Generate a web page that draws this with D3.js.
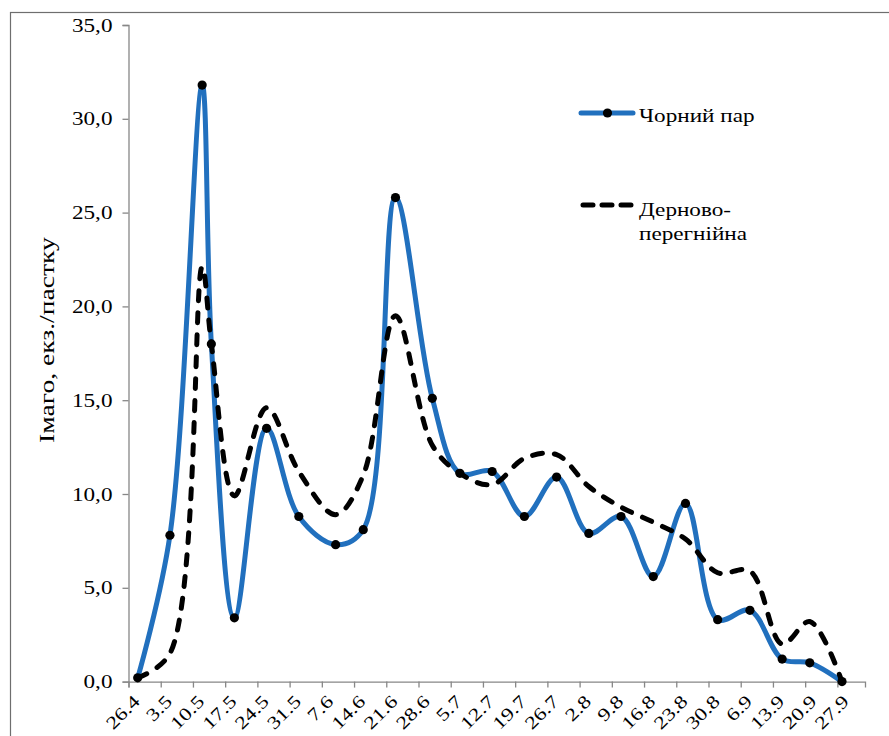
<!DOCTYPE html>
<html>
<head>
<meta charset="utf-8">
<script src="https://cdn.jsdelivr.net/npm/d3@7"></script>
<style>
  html, body { margin: 0; padding: 0; background: #fff; }
  svg { display: block; }
  text { font-family: "Liberation Serif", "Times New Roman", serif; fill: #000; }
</style>
</head>
<body>
<svg id="chart" width="889" height="736"></svg>
<script>
// Weekly sampling dates shown on the x axis (every 7 days from 26.4)
const tickLabels = ["26.4","3.5","10.5","17.5","24.5","31.5","7.6","14.6","21.6","28.6",
  "5.7","12.7","19.7","26.7","2.8","9.8","16.8","23.8","30.8","6.9","13.9","20.9","27.9"];
const tickDays = tickLabels.map((_, i) => i * 7);

// Чорний пар: day offset from 26.4 and catch per trap
const fallowDays   = [2, 9, 16, 18, 23, 30, 37, 45, 51, 58, 66, 72, 79, 86, 93, 100, 107, 114, 121, 128, 135, 142, 148, 155];
const fallowValues = [0.2, 7.8, 31.8, 18.0, 3.4, 13.5, 8.8, 7.3, 8.1, 25.8, 15.1, 11.1, 11.2, 8.8, 10.9, 7.9, 8.8, 5.6, 9.5, 3.3, 3.8, 1.2, 1.0, 0.0];

// Дерново-перегнійна
const sodDays   = [2, 9, 16, 18, 23, 30, 37, 45, 51, 58, 66, 72, 79, 86, 93, 100, 107, 114, 121, 128, 135, 142, 148, 155];
const sodValues = [0.2, 1.5, 22.1, 18.0, 9.9, 14.6, 11.2, 8.9, 11.0, 19.5, 12.6, 11.1, 10.5, 11.9, 12.1, 10.4, 9.3, 8.5, 7.6, 5.8, 5.9, 2.0, 3.2, 0.0];

const yTicks = [0, 5, 10, 15, 20, 25, 30, 35];

const svg = d3.select("#chart");
const axisColor = "#878787";
const blue = "#2170BE";
const stretch = 1.22; // wide lettering of the labels

// outer frame
svg.append("rect")
  .attr("x", 10.5).attr("y", 12.5)
  .attr("width", 1000).attr("height", 1000)
  .attr("fill", "none").attr("stroke", "#6e6e6e").attr("stroke-width", 1.2);

const x = d3.scaleLinear().domain([0, 160]).range([128.5, 865]);
const y = d3.scaleLinear().domain([0, 35]).range([681.6, 25]);

// y axis
const yAxis = svg.append("g")
  .attr("transform", `translate(${x(0)},0)`)
  .call(d3.axisLeft(y).tickValues(yTicks).tickSize(6).tickPadding(10)
    .tickFormat(d => d.toFixed(1).replace(".", ",")));
yAxis.select(".domain").attr("stroke", axisColor).attr("stroke-width", 1.3);
yAxis.selectAll(".tick line").attr("stroke", axisColor).attr("stroke-width", 1.3);
yAxis.selectAll("text")
  .style("font-family", "Liberation Serif, serif").style("font-size", "19px").attr("fill", "#000")
  .attr("x", -16 / stretch)
  .attr("transform", `scale(${stretch},1)`);

// x axis
const xAxis = svg.append("g")
  .attr("transform", `translate(0,${y(0)})`)
  .call(d3.axisBottom(x).tickValues(tickDays).tickSize(6)
    .tickFormat((d, i) => tickLabels[i]));
xAxis.select(".domain").attr("stroke", axisColor).attr("stroke-width", 1.3);
xAxis.selectAll(".tick line").attr("stroke", axisColor).attr("stroke-width", 1.3);
xAxis.selectAll("text")
  .style("font-family", "Liberation Serif, serif").style("font-size", "18px").attr("fill", "#000")
  .attr("text-anchor", "end")
  .attr("y", 0).attr("dy", 0)
  .attr("transform", "translate(12,21) rotate(-45) scale(1.25,1)");

// y axis title
svg.append("text")
  .attr("transform", "translate(54,340) rotate(-90) scale(1.38,1)")
  .attr("text-anchor", "middle")
  .style("font-size", "20px")
  .text("Імаго, екз./пастку");

const curve = d3.curveCatmullRom.alpha(0.5);
const line = d3.line().x(d => x(d[0])).y(d => y(d[1])).curve(curve);

// Чорний пар line + markers
const fallowData = fallowDays.map((d, i) => [d, fallowValues[i]]);
svg.append("path")
  .datum(fallowData)
  .attr("d", line)
  .attr("fill", "none").attr("stroke", blue).attr("stroke-width", 5)
  .attr("stroke-linejoin", "round").attr("stroke-linecap", "round");
svg.append("g").selectAll("circle")
  .data(fallowData).join("circle")
  .attr("cx", d => x(d[0])).attr("cy", d => y(d[1])).attr("r", 4.6)
  .attr("fill", "#000");

// Дерново-перегнійна dashed line
const sodData = sodDays.map((d, i) => [d, sodValues[i]]);
svg.append("path")
  .datum(sodData)
  .attr("d", line)
  .attr("fill", "none").attr("stroke", "#000").attr("stroke-width", 5)
  .attr("stroke-dasharray", "10,12").attr("stroke-linecap", "round")
  .attr("stroke-linejoin", "round");

// legend
const lg = svg.append("g");
lg.append("line").attr("x1", 581).attr("x2", 633).attr("y1", 113).attr("y2", 113)
  .attr("stroke", blue).attr("stroke-width", 5).attr("stroke-linecap", "round");
lg.append("circle").attr("cx", 607.5).attr("cy", 113).attr("r", 4.6).attr("fill", "#000");
lg.append("line").attr("x1", 583).attr("x2", 632).attr("y1", 205).attr("y2", 205)
  .attr("stroke", "#000").attr("stroke-width", 5)
  .attr("stroke-dasharray", "10,9").attr("stroke-linecap", "round");

const legendText = [["Чорний пар", 122], ["Дерново-", 216], ["перегнійна", 240]];
legendText.forEach(([t, ty]) => {
  lg.append("text")
    .attr("transform", `translate(639,${ty}) scale(${stretch},1)`)
    .style("font-size", "19px")
    .text(t);
});
</script>
</body>
</html>
